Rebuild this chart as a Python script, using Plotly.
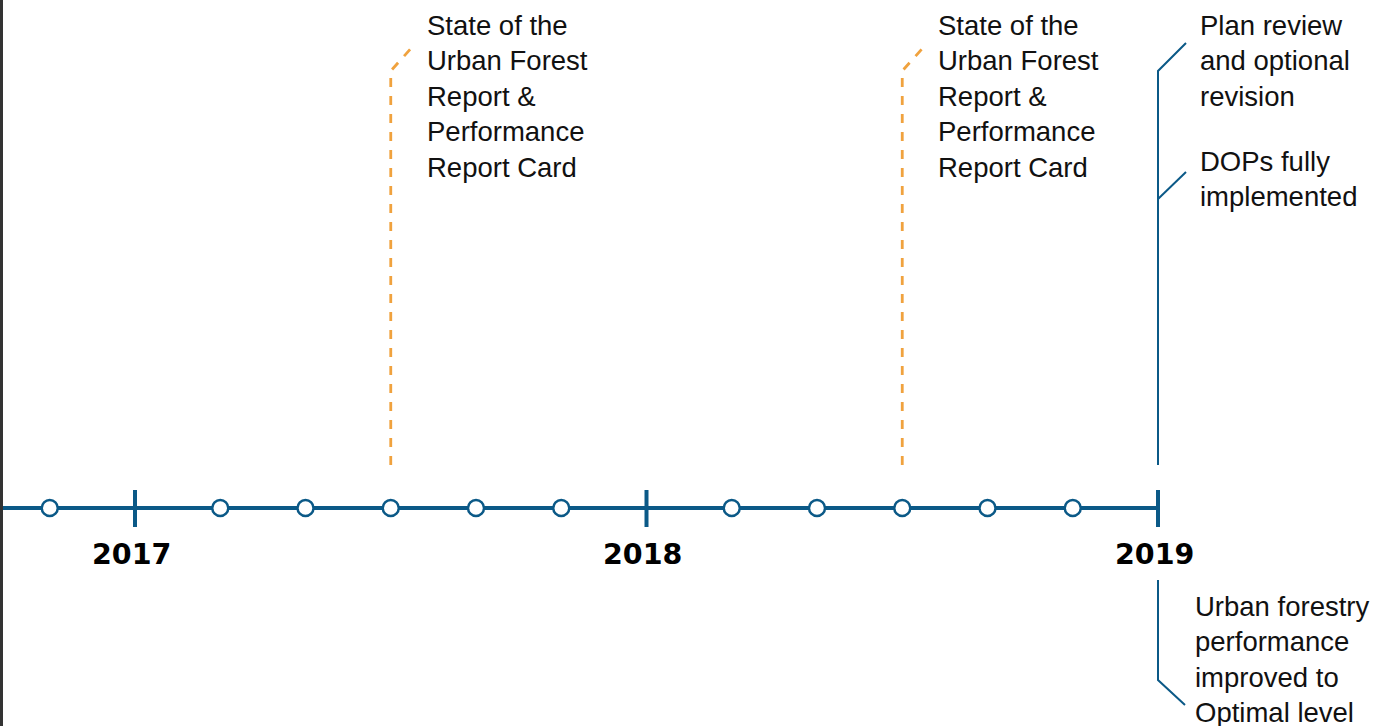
import plotly.graph_objects as go

# ---- data ----
years = [2017, 2018, 2019]
year_labels = ["2017", "2018", "2019"]
# bi-monthly milestone dots (fractional year)
dot_positions = [2016 + 10/12,
                 2017 + 2/12, 2017 + 4/12, 2017 + 6/12, 2017 + 8/12, 2017 + 10/12,
                 2018 + 2/12, 2018 + 4/12, 2018 + 6/12, 2018 + 8/12, 2018 + 10/12]
report_positions = [2017.5, 2018.5]
report_lines = ["State of the", "Urban Forest", "Report &", "Performance", "Report Card"]
plan_lines = ["Plan review", "and optional", "revision"]
dops_lines = ["DOPs fully", "implemented"]
outcome_lines = ["Urban forestry", "performance", "improved to", "Optimal level"]
final_year = 2019

BLUE = "#0b5987"
ORANGE = "#f0a23e"
TEXT_FONT = dict(family="Liberation Sans", size=27.5, color="#111")
W, H = 1376, 726
PX_PER_YEAR = 511.5
X0 = 2017 - 135 / PX_PER_YEAR
X1 = 2017 + (W - 135) / PX_PER_YEAR
dx = 1 / PX_PER_YEAR  # one pixel in x units

fig = go.Figure()

# main timeline
fig.add_trace(go.Scatter(x=[X0 - 0.1, final_year], y=[508, 508], mode="lines",
                         line=dict(color=BLUE, width=4), hoverinfo="skip", showlegend=False))
# year ticks
for yv in years:
    fig.add_trace(go.Scatter(x=[yv, yv], y=[490, 527], mode="lines",
                             line=dict(color=BLUE, width=4), hoverinfo="skip", showlegend=False))
# dots
fig.add_trace(go.Scatter(x=dot_positions, y=[508] * len(dot_positions), mode="markers",
                         marker=dict(size=16, color="white", line=dict(color=BLUE, width=2.5)),
                         hoverinfo="skip", showlegend=False))

# orange dashed leaders
for rp in report_positions:
    fig.add_trace(go.Scatter(x=[rp, rp, rp + 25 * dx], y=[465, 71, 43], mode="lines",
                             line=dict(color=ORANGE, width=2.8, dash="9px,9px"),
                             hoverinfo="skip", showlegend=False))
    for i, t in enumerate(report_lines):
        fig.add_annotation(x=rp + 34 * dx, y=25 + 35.5 * i, text=t, showarrow=False,
                           xanchor="left", yanchor="middle", font=TEXT_FONT)

# 2019 leaders
fy = final_year
fig.add_trace(go.Scatter(x=[fy, fy, fy + 28 * dx], y=[465, 71, 43], mode="lines",
                         line=dict(color=BLUE, width=2), hoverinfo="skip", showlegend=False))
fig.add_trace(go.Scatter(x=[fy, fy + 28 * dx], y=[199, 172], mode="lines",
                         line=dict(color=BLUE, width=2), hoverinfo="skip", showlegend=False))
fig.add_trace(go.Scatter(x=[fy, fy, fy + 27 * dx], y=[580, 680, 705], mode="lines",
                         line=dict(color=BLUE, width=2), hoverinfo="skip", showlegend=False))

for i, t in enumerate(plan_lines):
    fig.add_annotation(x=fy + 40 * dx, y=25 + 35.5 * i, text=t, showarrow=False,
                       xanchor="left", yanchor="middle", font=TEXT_FONT)
for i, t in enumerate(dops_lines):
    fig.add_annotation(x=fy + 40 * dx, y=161 + 35.5 * i, text=t, showarrow=False,
                       xanchor="left", yanchor="middle", font=TEXT_FONT)
for i, t in enumerate(outcome_lines):
    fig.add_annotation(x=fy + 35 * dx, y=606 + 35.5 * i, text=t, showarrow=False,
                       xanchor="left", yanchor="middle", font=TEXT_FONT)

# year labels
for yv, lab in zip(years, year_labels):
    fig.add_annotation(x=yv - 4 * dx, y=554, text="<b>" + lab + "</b>", showarrow=False,
                       xanchor="center", yanchor="middle",
                       font=dict(family="DejaVu Sans", size=28.5, color="#000"))

# left border
fig.add_shape(type="line", xref="paper", yref="paper", x0=1.5 / W, x1=1.5 / W, y0=0, y1=1,
              line=dict(color="#333333", width=3))

fig.update_layout(
    width=W, height=H, margin=dict(l=0, r=0, t=0, b=0),
    paper_bgcolor="white", plot_bgcolor="white",
    xaxis=dict(range=[X0, X1], visible=False, fixedrange=True),
    yaxis=dict(range=[H, 0], visible=False, fixedrange=True),
    showlegend=False,
)

fig.write_html("out.html", config={"displayModeBar": False},
               post_script="document.body.style.margin='0';document.body.style.overflow='hidden';")
